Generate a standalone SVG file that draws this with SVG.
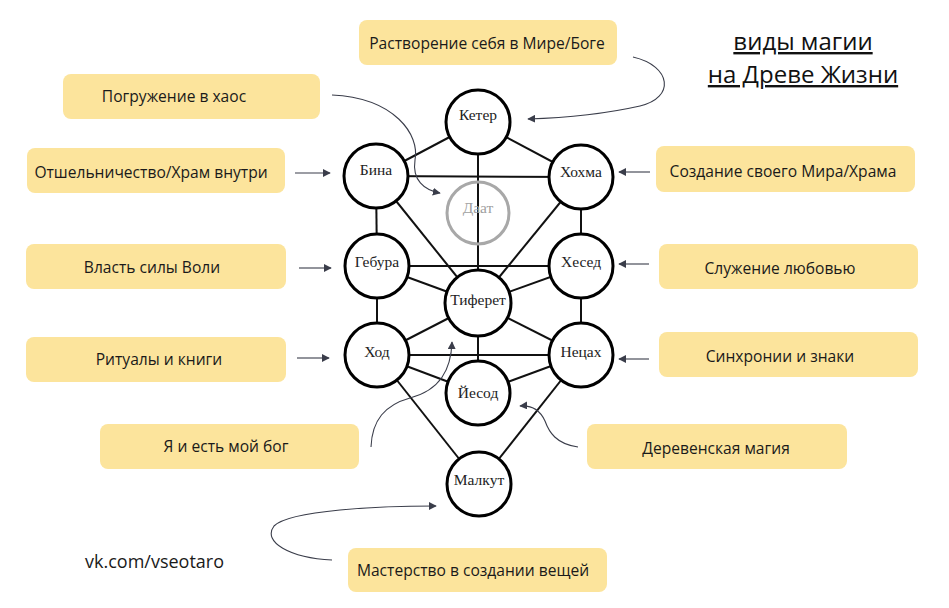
<svg xmlns="http://www.w3.org/2000/svg" width="949" height="608" viewBox="0 0 949 608">
<style>
.box{fill:#FCE49C;}
.bt{font-family:"Open Sans","Liberation Sans",sans-serif;font-size:15.6px;fill:#1a1a1a;text-anchor:middle;}
.nc{fill:#fff;stroke:#000;stroke-width:3;}
.nt{font-family:"Liberation Serif","DejaVu Serif",serif;font-size:15.5px;fill:#222;text-anchor:middle;}
.edge{stroke:#111;stroke-width:2;}
.arr{fill:none;stroke:#3a3d4a;stroke-width:1.1;marker-end:url(#ah);}
.title{font-family:"Open Sans","Liberation Sans",sans-serif;font-size:24px;fill:#111;text-anchor:middle;text-decoration:underline;}
</style>
<defs>
<marker id="ah" viewBox="0 0 10 10" refX="9" refY="5" markerWidth="8" markerHeight="8" markerUnits="userSpaceOnUse" orient="auto">
<path d="M0,0 L10,5 L0,10 z" fill="#3a3d4a"/>
</marker>
</defs>
<rect width="949" height="608" fill="#fff"/>

<g id="edges">
<line class="edge" x1="478" y1="122" x2="376" y2="176"/>
<line class="edge" x1="478" y1="122" x2="581" y2="177"/>
<line class="edge" x1="478" y1="122" x2="478" y2="303"/>
<line class="edge" x1="376" y1="176" x2="581" y2="177"/>
<line class="edge" x1="376" y1="176" x2="377" y2="266"/>
<line class="edge" x1="581" y1="177" x2="581" y2="266"/>
<line class="edge" x1="376" y1="176" x2="478" y2="303"/>
<line class="edge" x1="581" y1="177" x2="478" y2="303"/>
<line class="edge" x1="377" y1="266" x2="581" y2="266"/>
<line class="edge" x1="377" y1="266" x2="478" y2="303"/>
<line class="edge" x1="581" y1="266" x2="478" y2="303"/>
<line class="edge" x1="377" y1="266" x2="377" y2="355"/>
<line class="edge" x1="581" y1="266" x2="581" y2="355"/>
<line class="edge" x1="377" y1="355" x2="478" y2="303"/>
<line class="edge" x1="581" y1="355" x2="478" y2="303"/>
<line class="edge" x1="377" y1="355" x2="581" y2="355"/>
<line class="edge" x1="478" y1="303" x2="478" y2="393"/>
<line class="edge" x1="377" y1="355" x2="478" y2="393"/>
<line class="edge" x1="581" y1="355" x2="478" y2="393"/>
<line class="edge" x1="377" y1="355" x2="479" y2="484"/>
<line class="edge" x1="581" y1="355" x2="479" y2="484"/>
</g>

<g id="n-keter"><circle class="nc" cx="478" cy="122" r="32"/><text class="nt" x="478" y="120">Кетер</text></g>
<g id="n-bina"><circle class="nc" cx="376" cy="176" r="32"/><text class="nt" x="376" y="175">Бина</text></g>
<g id="n-hokhma"><circle class="nc" cx="581" cy="177" r="32"/><text class="nt" x="581" y="177">Хохма</text></g>
<g id="n-daat"><circle cx="478" cy="213" r="31" fill="none" stroke="#a8a8a8" stroke-width="3"/><text class="nt" x="478" y="213" style="fill:#a0a0a0">Даат</text></g>
<g id="n-gebura"><circle class="nc" cx="377" cy="266" r="32"/><text class="nt" x="377" y="267">Гебура</text></g>
<g id="n-hesed"><circle class="nc" cx="581" cy="266" r="32"/><text class="nt" x="581" y="267">Хесед</text></g>
<g id="n-tiferet"><circle class="nc" cx="478" cy="303" r="33"/><text class="nt" x="478" y="305">Тиферет</text></g>
<g id="n-hod"><circle class="nc" cx="377" cy="355" r="32"/><text class="nt" x="377" y="357">Ход</text></g>
<g id="n-netsah"><circle class="nc" cx="581" cy="355" r="32"/><text class="nt" x="581" y="357">Нецах</text></g>
<g id="n-yesod"><circle class="nc" cx="478" cy="393" r="32"/><text class="nt" x="478" y="398">Йесод</text></g>
<g id="n-malkut"><circle class="nc" cx="479" cy="484" r="32"/><text class="nt" x="479" y="485">Малкут</text></g>

<g id="b-rastvorenie"><rect class="box" x="359" y="20" width="258" height="45" rx="8"/><text class="bt" x="487" y="49">Растворение себя в Мире/Боге</text></g>
<g id="b-pogruzhenie"><rect class="box" x="63" y="74" width="257" height="45" rx="8"/><text class="bt" x="174" y="102">Погружение в хаос</text></g>
<g id="b-otshelnichestvo"><rect class="box" x="27" y="148" width="258" height="45" rx="8"/><text class="bt" x="151" y="178">Отшельничество/Храм внутри</text></g>
<g id="b-sozdanie"><rect class="box" x="656" y="146" width="259" height="46" rx="8"/><text class="bt" x="783" y="177">Создание своего Мира/Храма</text></g>
<g id="b-vlast"><rect class="box" x="26" y="244" width="260" height="45" rx="8"/><text class="bt" x="152" y="273">Власть силы Воли</text></g>
<g id="b-sluzhenie"><rect class="box" x="659" y="244" width="259" height="45" rx="8"/><text class="bt" x="780" y="274">Служение любовью</text></g>
<g id="b-ritualy"><rect class="box" x="26" y="337" width="260" height="45" rx="8"/><text class="bt" x="159" y="365">Ритуалы и книги</text></g>
<g id="b-sinhronii"><rect class="box" x="659" y="332" width="259" height="45" rx="8"/><text class="bt" x="780" y="362">Синхронии и знаки</text></g>
<g id="b-ya"><rect class="box" x="100" y="424" width="259" height="45" rx="8"/><text class="bt" x="226" y="452">Я и есть мой бог</text></g>
<g id="b-derevenskaya"><rect class="box" x="587" y="424" width="260" height="45" rx="8"/><text class="bt" x="716" y="454">Деревенская магия</text></g>
<g id="b-masterstvo"><rect class="box" x="348" y="548" width="259" height="44" rx="8"/><text class="bt" x="473" y="576">Мастерство в создании вещей</text></g>

<g id="connectors">
<line class="arr" x1="295" y1="173" x2="330" y2="173"/>
<line class="arr" x1="650" y1="172" x2="619" y2="172"/>
<line class="arr" x1="299" y1="268" x2="331" y2="268"/>
<line class="arr" x1="649" y1="264" x2="619" y2="264"/>
<line class="arr" x1="297" y1="358" x2="329" y2="358"/>
<line class="arr" x1="649" y1="359" x2="619" y2="359"/>
<path class="arr" d="M633,57 C672,66 675,98 640,106 C600,115 560,118 528,119"/>
<path class="arr" d="M332,95 C395,98 420,135 415,160 C412,180 424,190 440,193"/>
<path class="arr" d="M371,447 C372,420 385,405 410,398 C440,390 451,370 452,342"/>
<path class="arr" d="M578,447 C556,444 549,432 545,421 C540,410 532,405 520,406"/>
<path class="arr" d="M332,560 C290,558 262,542 274,526 C290,510 380,506 436,506"/>
</g>

<text class="title" x="803" y="50">виды магии</text>
<text class="title" x="803" y="83">на Древе Жизни</text>
<text x="85" y="568" font-family="Open Sans, Liberation Sans, sans-serif" font-size="18" fill="#1a1a1a">vk.com/vseotaro</text>
</svg>
